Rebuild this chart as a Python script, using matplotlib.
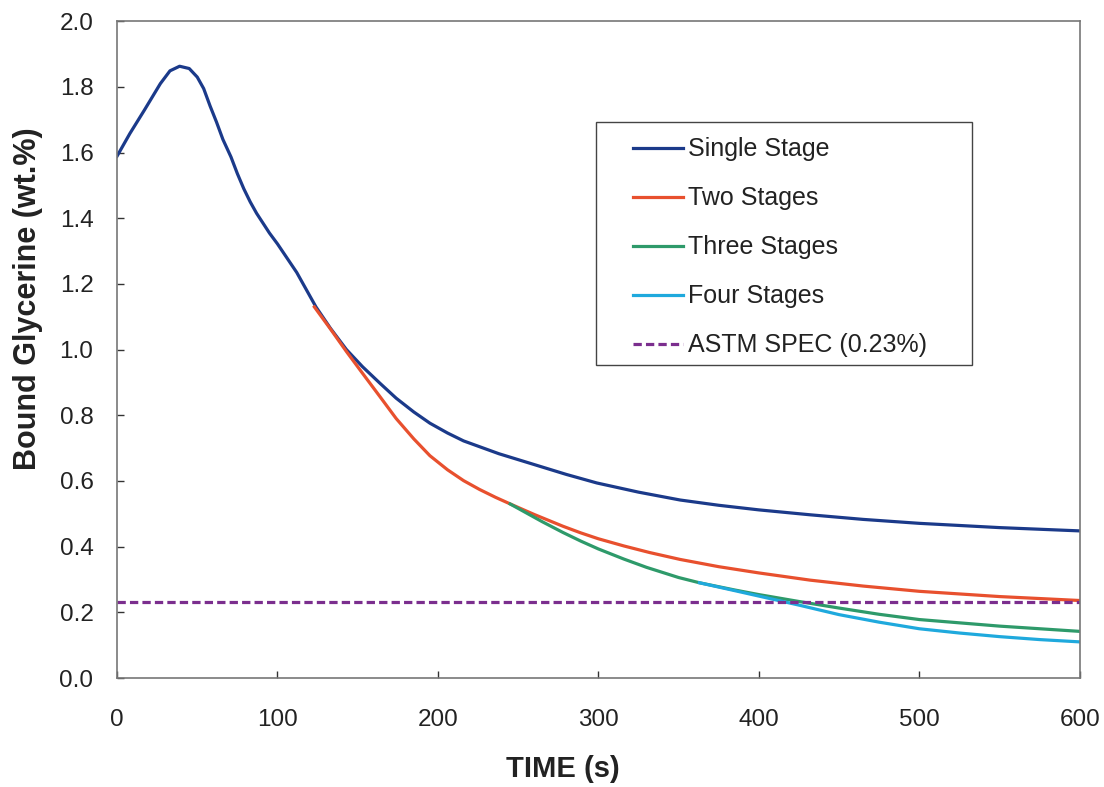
import matplotlib.pyplot as plt
from matplotlib.patches import Rectangle
import numpy as np

plt.rcParams['font.family'] = ['Liberation Sans', 'DejaVu Sans']

# values
single_t = [0, 8, 17, 27, 33, 39, 45, 50, 54, 58, 62, 66, 71, 75, 79, 83, 87, 91, 95, 100,
            112, 124, 133, 143, 153, 164, 174, 185, 195, 206, 216, 238, 258, 280, 299,
            325, 351, 375, 400, 432, 465, 500, 550, 600]
single_v = [1.589, 1.658, 1.729, 1.81, 1.849, 1.863, 1.856, 1.83, 1.795, 1.742, 1.693,
            1.64, 1.587, 1.536, 1.49, 1.45, 1.415, 1.385, 1.355, 1.322, 1.235, 1.13,
            1.065, 1.0, 0.948, 0.897, 0.852, 0.81, 0.776, 0.746, 0.722, 0.683, 0.653,
            0.62, 0.594, 0.566, 0.542, 0.526, 0.512, 0.497, 0.483, 0.471, 0.458, 0.448]

two_t = [123, 133, 143, 153, 164, 174, 185, 195, 206, 216, 226, 236, 246, 260, 278, 289,
         300, 316, 332, 351, 375, 400, 432, 465, 500, 550, 600]
two_v = [1.13, 1.063, 0.994, 0.928, 0.856, 0.79, 0.728, 0.677, 0.634, 0.601, 0.574, 0.55,
         0.528, 0.498, 0.462, 0.442, 0.424, 0.402, 0.382, 0.361, 0.339, 0.32, 0.298,
         0.28, 0.264, 0.248, 0.236]

three_t = [245, 255, 265, 278, 289, 300, 316, 330, 350, 363, 385, 400, 425, 450, 475,
           500, 550, 600]
three_v = [0.53, 0.503, 0.476, 0.443, 0.417, 0.393, 0.362, 0.337, 0.306, 0.29, 0.268,
           0.254, 0.233, 0.213, 0.194, 0.178, 0.158, 0.142]

four_t = [363, 385, 405, 425, 450, 475, 500, 525, 550, 575, 600]
four_v = [0.29, 0.266, 0.244, 0.222, 0.193, 0.17, 0.15, 0.137, 0.126, 0.117, 0.11]

astm_t = [0, 600]
astm_v = [0.23, 0.23]

labels = ['Single Stage', 'Two Stages', 'Three Stages', 'Four Stages', 'ASTM SPEC (0.23%)']
colors = ['#1b3a8a', '#e8502e', '#2e9a6a', '#1fa9dd', '#7b2e8e']

fig = plt.figure(figsize=(11.04, 7.87), dpi=100)
ax = fig.add_axes([0.106, 0.1385, 0.872, 0.8345])

series = [(single_t, single_v), (two_t, two_v), (three_t, three_v), (four_t, four_v)]
for (t, v), lab, col in zip(series, labels[:4], colors[:4]):
    ax.plot(t, v, color=col, lw=2.3, label=lab, solid_joinstyle='round')
ax.plot(astm_t, astm_v, color=colors[4], lw=2.3, ls=(0, (2.6, 1.3)), label=labels[4])

ax.set_xlim(0, 600)
ax.set_ylim(0, 2.0)
ax.set_xticks(np.arange(0, 601, 100))
ax.set_yticks(np.arange(0, 2.01, 0.2))
ax.set_yticklabels([f'{y:.1f}' for y in np.arange(0, 2.01, 0.2)])
ax.tick_params(direction='in', length=5, width=1, labelsize=17.5, colors='#333333',
               labelcolor='#222222', top=False, right=False)
ax.tick_params(axis='x', pad=22)
ax.tick_params(axis='y', pad=17)
for s in ax.spines.values():
    s.set_color('#777777')
    s.set_linewidth(1.2)

ax.set_xlabel('TIME (s)', fontsize=21, fontweight='bold', color='#222222')
ax.xaxis.set_label_coords(0.463, -0.118)
ax.set_ylabel('Bound Glycerine (wt.%)', fontsize=22, fontweight='bold', color='#222222')
ax.yaxis.set_label_coords(-0.077, 0.578)

# legend box drawn separately so the entries can sit indented inside it
ax.add_patch(Rectangle((0.4974, 0.4764), 0.3905, 0.370, transform=ax.transAxes,
                       facecolor='white', edgecolor='#444444', lw=1.0, zorder=4))
leg = ax.legend(loc='upper left', bbox_to_anchor=(0.536, 0.823), fontsize=18,
                frameon=False, handlelength=2.0, handletextpad=0.2,
                labelspacing=1.0, borderpad=0, borderaxespad=0)
leg.set_zorder(5)
for txt in leg.get_texts():
    txt.set_color('#222222')

fig.savefig('out.png', dpi=100)
